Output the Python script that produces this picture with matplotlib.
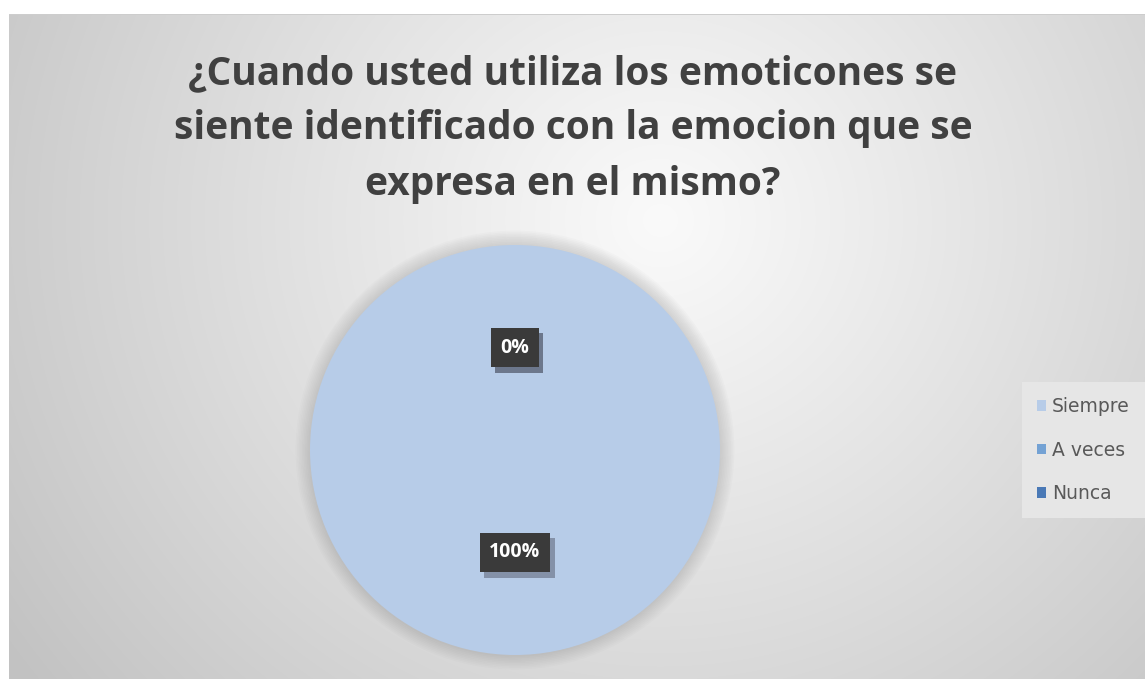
import numpy as np
import matplotlib
matplotlib.use("Agg")
import matplotlib.pyplot as plt
from matplotlib.patches import Patch, Circle
from matplotlib import patheffects

categories = ["Siempre", "A veces", "Nunca"]
values = [100, 0, 0]
colors = ["#b7cce8", "#74a2d4", "#4a79b6"]
title = ("¿Cuando usted utiliza los emoticones se\n"
         "siente identificado con la emocion que se\n"
         "expresa en el mismo?")

W, H = 1145, 679
dpi = 100
fig = plt.figure(figsize=(W / dpi, H / dpi), dpi=dpi)

# background: white margin top/left, radial grey gradient inside chart area
yy, xx = np.mgrid[0:H, 0:W]
dist = np.hypot(xx - 660, (yy - 220) / 0.95)
t = np.clip(dist / 800, 0, 1)
bg = 250 - (250 - 194) * t ** 1.05
bg[:14, :] = 255
bg[14, 9:] = 205
bg[:, :9] = 255
img = np.dstack([bg, bg, bg]).astype(np.uint8)
bg_ax = fig.add_axes([0, 0, 1, 1])
bg_ax.imshow(img, aspect="auto", interpolation="bilinear")
bg_ax.set_axis_off()

fig.text(573 / W, 1 - 129 / H, title, ha="center", va="center",
         fontsize=28, fontweight="bold", color="#404040",
         family=["Open Sans", "DejaVu Sans"], linespacing=1.55)

# pie placed so it spans x 310..720, y 245..655
cx, cy, r = 515, 450, 205
ax = fig.add_axes([(cx - r) / W, 1 - (cy + r) / H, 2 * r / W, 2 * r / H])
for rr in np.linspace(1.0, 1.07, 10):
    ax.add_patch(Circle((0, 0), rr, color="#808080", alpha=0.03,
                        lw=0, clip_on=False, zorder=0))

wedges, texts, autotexts = ax.pie(
    values, colors=colors, startangle=90, counterclock=False,
    autopct="%1.0f%%", pctdistance=0.5, radius=1.0,
    wedgeprops=dict(linewidth=0),
    textprops=dict(color="white", fontsize=14, fontweight="bold",
                   family=["Open Sans", "DejaVu Sans"]),
)
for w in wedges:
    w.set_zorder(1)
for at in autotexts:
    at.set_bbox(dict(boxstyle="square,pad=0.5", facecolor="#3a3a3a",
                     edgecolor="none"))
    at.get_bbox_patch().set_path_effects(
        [patheffects.withSimplePatchShadow(offset=(3, -4), shadow_rgbFace="#5a6275", alpha=0.55),
         patheffects.Normal()])
    at.set_zorder(3)
ax.set_xlim(-1, 1)
ax.set_ylim(-1, 1)
ax.set_axis_off()

handles = [Patch(facecolor=c, edgecolor="none", label=l)
           for c, l in zip(colors, categories)]
leg = fig.legend(handles=handles, loc="center left",
                 bbox_to_anchor=(1022 / W, 1 - 450 / H),
                 frameon=True, fancybox=False, fontsize=13.5,
                 handlelength=0.5, handleheight=0.5, handletextpad=0.3,
                 labelspacing=1.3, borderpad=0.8, borderaxespad=0)
leg.get_frame().set_facecolor("#e6e6e6")
leg.get_frame().set_edgecolor("none")
leg.get_frame().set_alpha(1)
for txt in leg.get_texts():
    txt.set_color("#595959")
    txt.set_family(["Liberation Sans Narrow", "DejaVu Sans"])

fig.savefig("out.png", dpi=dpi)
